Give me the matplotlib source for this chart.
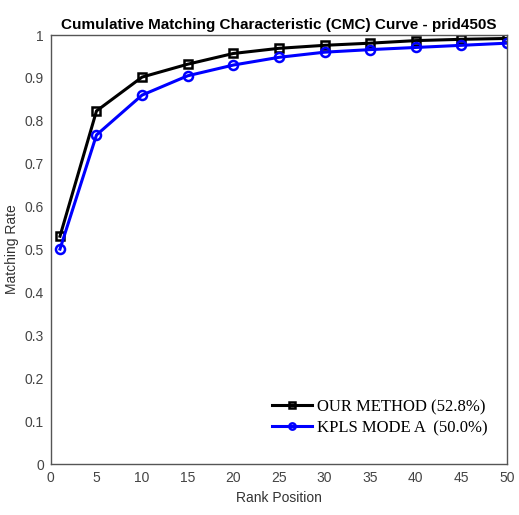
import matplotlib
matplotlib.use("Agg")
import matplotlib.pyplot as plt

# CMC curve values
ranks = [1, 5, 10, 15, 20, 25, 30, 35, 40, 45, 50]
ours = [0.531, 0.823, 0.902, 0.932, 0.957, 0.969, 0.976, 0.981, 0.987, 0.990, 0.992]
kpls = [0.501, 0.767, 0.860, 0.905, 0.930, 0.948, 0.960, 0.966, 0.971, 0.976, 0.981]
xticks = [0, 5, 10, 15, 20, 25, 30, 35, 40, 45, 50]
yticks = [0, 0.1, 0.2, 0.3, 0.4, 0.5, 0.6, 0.7, 0.8, 0.9, 1]
ytick_labels = ["0", "0.1", "0.2", "0.3", "0.4", "0.5", "0.6", "0.7", "0.8", "0.9", "1"]

plt.rcParams['font.family'] = ['Liberation Sans', 'DejaVu Sans']

fig = plt.figure(figsize=(5.19, 5.15), dpi=100)
ax = fig.add_axes([0.098, 0.099, 0.879, 0.833])

ax.plot(ranks, ours, color='black', lw=2.2, marker='s', ms=6, mfc='none', mew=1.8,
        label='OUR METHOD (52.8%)')
ax.plot(ranks, kpls, color='#0000ff', lw=2.2, marker='o', ms=6.5, mfc='none', mew=1.8,
        label='KPLS MODE A  (50.0%)')

ax.set_xlim(0, 50)
ax.set_ylim(0, 1)
ax.set_xticks(xticks)
ax.set_yticks(yticks)
ax.set_yticklabels(ytick_labels)
ax.tick_params(length=0, labelsize=10, colors='#444444', pad=5)
for s in ax.spines.values():
    s.set_color('#555555')
    s.set_linewidth(1.0)

ax.set_xlabel('Rank Position', fontsize=10, color='#333333')
ax.set_ylabel('Matching Rate', fontsize=10, color='#333333')
ax.set_title('Cumulative Matching Characteristic (CMC) Curve - prid450S',
             fontsize=11, fontweight='bold', pad=4)

leg = ax.legend(loc='lower right', bbox_to_anchor=(0.99, 0.03), frameon=False,
                prop={'family': 'Liberation Serif', 'size': 12}, handlelength=2.4,
                markerscale=0.7, handletextpad=0.3, labelspacing=0.3)

fig.savefig('out.png', dpi=100)
